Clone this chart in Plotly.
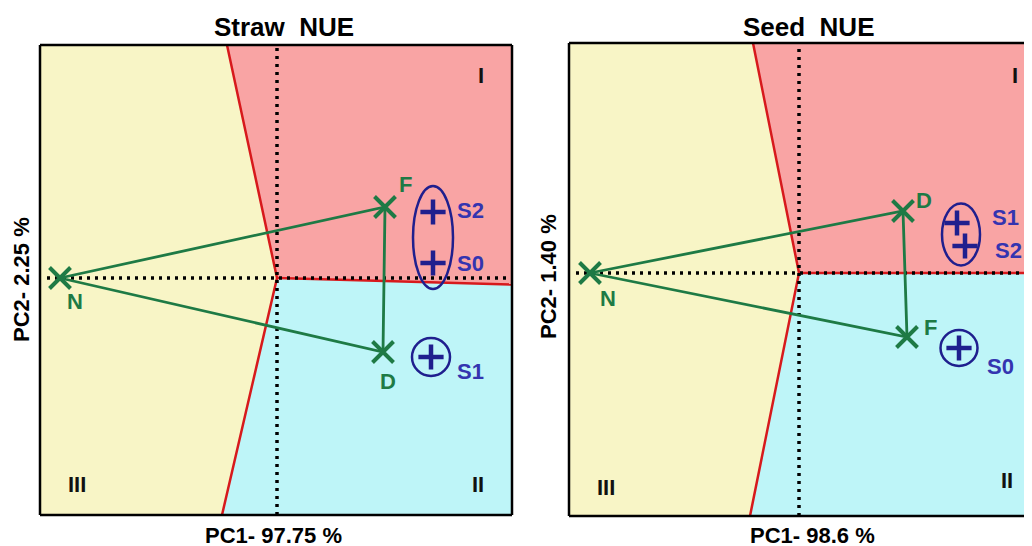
import plotly.graph_objects as go

W, H = 1032, 546
OFF = 8  # browser default body margin

# ---------------- data ----------------
panel_titles = ["Straw&nbsp; NUE", "Seed&nbsp; NUE"]
x_titles = ["PC1- 97.75 %", "PC1- 98.6 %"]
y_titles = ["PC2- 2.25 %", "PC2- 1.40 %"]

# axis ranges (PC units)
x_ranges = [[-2.37, 2.35], [-2.30, 2.33]]
y_ranges = [[-2.37, 2.33], [-2.43, 2.30]]

# genotype / treatment vectors (green)
straw_vec_names = ["N", "F", "D"]
straw_vec_pc1 = [-2.17, 1.08, 1.06]
straw_vec_pc2 = [0.00, 0.71, -0.74]
seed_vec_names = ["N", "D", "F"]
seed_vec_pc1 = [-2.09, 1.04, 1.08]
seed_vec_pc2 = [0.00, 0.62, -0.64]

# environment points (blue)
straw_env_names = ["S2", "S0", "S1"]
straw_env_pc1 = [1.56, 1.56, 1.54]
straw_env_pc2 = [0.66, 0.15, -0.79]
seed_env_names = ["S1", "S2", "S0"]
seed_env_pc1 = [1.58, 1.66, 1.60]
seed_env_pc2 = [0.50, 0.27, -0.75]

# groups of environments enclosed together (indices) and their radii
straw_groups = [[0, 1], [2]]
straw_group_r = [(0.20, 0.515), (0.19, 0.19)]
seed_groups = [[0, 1], [2]]
seed_group_r = [(0.19, 0.31), (0.185, 0.18)]

# sector boundary (red): top point, origin, bottom point, right point
straw_bound_x = [-0.50, 0.0, -0.55, 2.35]
straw_bound_y = [2.33, 0.0, -2.37, -0.065]
seed_bound_x = [-0.46, 0.0, -0.49, 2.33]
seed_bound_y = [2.30, 0.0, -2.43, 0.0]

sector_labels = ["I", "II", "III"]

# ---------------- styles ----------------
YELLOW = "#F8F5C6"
PINK = "#F9A4A4"
CYAN = "#BEF5F8"
RED = "#D7191C"
GREEN = "#1E7A45"
NAVY = "#1F1F8E"
BLUE_TXT = "#3434B0"
FONT = "Liberation Sans, Arial, sans-serif"


def px2x(px):
    return (px - OFF) / W


def px2y(py):
    return 1 - (py - OFF) / H


# panel pixel frames (screen coordinates): left, top, right, bottom
frames = [(40, 45, 512, 515), (569, 43, W, 516)]

fig = go.Figure()

panels = [
    dict(vn=straw_vec_names, vx=straw_vec_pc1, vy=straw_vec_pc2,
         en=straw_env_names, ex=straw_env_pc1, ey=straw_env_pc2,
         groups=straw_groups, gr=straw_group_r,
         bx=straw_bound_x, by=straw_bound_y,
         vec_shift={"N": (15, -23), "F": (20, 23), "D": (5, -29)},
         env_shift={"S2": (37, 2), "S0": (37, 0), "S1": (39, -14)},
         sec_pos=[(0.934, 0.936), (0.928, 0.064), (0.078, 0.064)],
         title_px=(284, 27), xt_px=(273, 535), yt_px=(21, 280)),
    dict(vn=seed_vec_names, vx=seed_vec_pc1, vy=seed_vec_pc2,
         en=seed_env_names, ex=seed_env_pc1, ey=seed_env_pc2,
         groups=seed_groups, gr=seed_group_r,
         bx=seed_bound_x, by=seed_bound_y,
         vec_shift={"N": (18, -25), "D": (21, 11), "F": (23, 10)},
         env_shift={"S1": (48, 6), "S2": (43, -4), "S0": (41, -18)},
         sec_pos=[(0.963, 0.932), (0.946, 0.074), (0.080, 0.061)],
         title_px=(809, 27), xt_px=(812, 535), yt_px=(548, 277)),
]

shapes = []
annotations = []
C = dict(xanchor="center", yanchor="middle", showarrow=False)

for i, p in enumerate(panels):
    xa = "x" if i == 0 else "x2"
    ya = "y" if i == 0 else "y2"
    xr, yr = x_ranges[i], y_ranges[i]
    tx, ox, bx_, rx = p["bx"]
    ty, oy, by_, ry = p["by"]
    # sector fills
    fig.add_trace(go.Scatter(x=[xr[0], tx, ox, bx_, xr[0]], y=[yr[1], ty, oy, by_, yr[0]],
                             fill="toself", fillcolor=YELLOW, mode="none",
                             xaxis=xa, yaxis=ya, hoverinfo="skip", showlegend=False))
    fig.add_trace(go.Scatter(x=[tx, xr[1], rx, ox], y=[ty, yr[1], ry, oy],
                             fill="toself", fillcolor=PINK, mode="none",
                             xaxis=xa, yaxis=ya, hoverinfo="skip", showlegend=False))
    fig.add_trace(go.Scatter(x=[ox, rx, xr[1], bx_], y=[oy, ry, yr[0], by_],
                             fill="toself", fillcolor=CYAN, mode="none",
                             xaxis=xa, yaxis=ya, hoverinfo="skip", showlegend=False))
    # red boundaries
    fig.add_trace(go.Scatter(x=[tx, ox, bx_], y=[ty, oy, by_], mode="lines",
                             line=dict(color=RED, width=2.5),
                             xaxis=xa, yaxis=ya, hoverinfo="skip", showlegend=False))
    fig.add_trace(go.Scatter(x=[ox, rx], y=[oy, ry], mode="lines",
                             line=dict(color=RED, width=2.5),
                             xaxis=xa, yaxis=ya, hoverinfo="skip", showlegend=False))
    # dotted axes through origin
    fig.add_trace(go.Scatter(x=[xr[0] + 0.07, xr[1]], y=[0, 0], mode="lines",
                             line=dict(color="black", width=3.5, dash="3px,5px"),
                             xaxis=xa, yaxis=ya, hoverinfo="skip", showlegend=False))
    fig.add_trace(go.Scatter(x=[0, 0], y=[yr[0], yr[1]], mode="lines",
                             line=dict(color="black", width=3.5, dash="3px,5px"),
                             xaxis=xa, yaxis=ya, hoverinfo="skip", showlegend=False))
    # green polygon: N -> vec1 -> vec2 -> N
    vx, vy = p["vx"], p["vy"]
    fig.add_trace(go.Scatter(x=[vx[0], vx[1], vx[2], vx[0]], y=[vy[0], vy[1], vy[2], vy[0]],
                             mode="lines", line=dict(color=GREEN, width=2.8),
                             xaxis=xa, yaxis=ya, hoverinfo="skip", showlegend=False))
    fig.add_trace(go.Scatter(x=vx, y=vy, mode="markers",
                             marker=dict(symbol="x-thin", size=21, color=GREEN,
                                         line=dict(color=GREEN, width=4)),
                             xaxis=xa, yaxis=ya, hoverinfo="skip", showlegend=False))
    # environment pluses
    fig.add_trace(go.Scatter(x=p["ex"], y=p["ey"], mode="markers",
                             marker=dict(symbol="cross-thin", size=18, color=NAVY,
                                         line=dict(color=NAVY, width=4.5)),
                             xaxis=xa, yaxis=ya, hoverinfo="skip", showlegend=False))
    # group ellipses
    for g, (rxg, ryg) in zip(p["groups"], p["gr"]):
        cx = sum(p["ex"][k] for k in g) / len(g)
        cy = sum(p["ey"][k] for k in g) / len(g)
        shapes.append(dict(type="circle", xref=xa, yref=ya,
                           x0=cx - rxg, x1=cx + rxg, y0=cy - ryg, y1=cy + ryg,
                           line=dict(color=NAVY, width=2.5)))
    # labels
    for n, x, y in zip(p["vn"], vx, vy):
        sx, sy = p["vec_shift"][n]
        annotations.append(dict(x=x, y=y, xref=xa, yref=ya, text="<b>%s</b>" % n,
                                xshift=sx, yshift=sy,
                                font=dict(family=FONT, size=22, color=GREEN), **C))
    for n, x, y in zip(p["en"], p["ex"], p["ey"]):
        sx, sy = p["env_shift"][n]
        annotations.append(dict(x=x, y=y, xref=xa, yref=ya, text="<b>%s</b>" % n,
                                xshift=sx, yshift=sy,
                                font=dict(family=FONT, size=22, color=BLUE_TXT), **C))
    for lab, (qx, qy) in zip(sector_labels, p["sec_pos"]):
        annotations.append(dict(x=qx, y=qy, xref=xa + " domain", yref=ya + " domain",
                                text="<b>%s</b>" % lab,
                                font=dict(family=FONT, size=22, color="#111111"), **C))
    # titles
    tpx, tpy = p["title_px"]
    annotations.append(dict(x=px2x(tpx), y=px2y(tpy), xref="paper", yref="paper",
                            text="<b>%s</b>" % panel_titles[i],
                            font=dict(family=FONT, size=26, color="black"), **C))
    xpx, xpy = p["xt_px"]
    annotations.append(dict(x=px2x(xpx), y=px2y(xpy), xref="paper", yref="paper",
                            text="<b>%s</b>" % x_titles[i],
                            font=dict(family=FONT, size=22, color="black"), **C))
    ypx, ypy = p["yt_px"]
    annotations.append(dict(x=px2x(ypx), y=px2y(ypy), xref="paper", yref="paper",
                            text="<b>%s</b>" % y_titles[i], textangle=-90,
                            font=dict(family=FONT, size=22, color="black"), **C))
    # frame
    fl, ft, fr, fb = frames[i]
    fr_line = fr if i == 0 else W + OFF
    fx0, fx1 = px2x(fl), px2x(fr_line)
    fy0, fy1 = px2y(fb), px2y(ft)
    frame_line = dict(color="black", width=2.5)
    shapes.append(dict(type="line", xref="paper", yref="paper", x0=fx0, x1=fx0, y0=fy0, y1=fy1, line=frame_line))
    shapes.append(dict(type="line", xref="paper", yref="paper", x0=fx0, x1=fx1, y0=fy1, y1=fy1, line=frame_line))
    shapes.append(dict(type="line", xref="paper", yref="paper", x0=fx0, x1=fx1, y0=fy0, y1=fy0, line=frame_line))
    if i == 0:
        shapes.append(dict(type="line", xref="paper", yref="paper", x0=fx1, x1=fx1, y0=fy0, y1=fy1, line=frame_line))

ax_common = dict(showgrid=False, zeroline=False, showticklabels=False, ticks="",
                 showline=False, fixedrange=True)

fig.update_layout(
    width=W, height=H,
    margin=dict(l=0, r=0, t=0, b=0),
    paper_bgcolor="white", plot_bgcolor="white",
    showlegend=False,
    xaxis=dict(domain=[px2x(frames[0][0]), px2x(frames[0][2])], range=x_ranges[0], **ax_common),
    yaxis=dict(domain=[px2y(frames[0][3]), px2y(frames[0][1])], range=y_ranges[0], **ax_common),
    xaxis2=dict(domain=[px2x(frames[1][0]), px2x(frames[1][2])], range=x_ranges[1], anchor="y2", **ax_common),
    yaxis2=dict(domain=[px2y(frames[1][3]), px2y(frames[1][1])], range=y_ranges[1], anchor="x2", **ax_common),
    shapes=shapes,
    annotations=annotations,
)

fig.write_html("out.html")
